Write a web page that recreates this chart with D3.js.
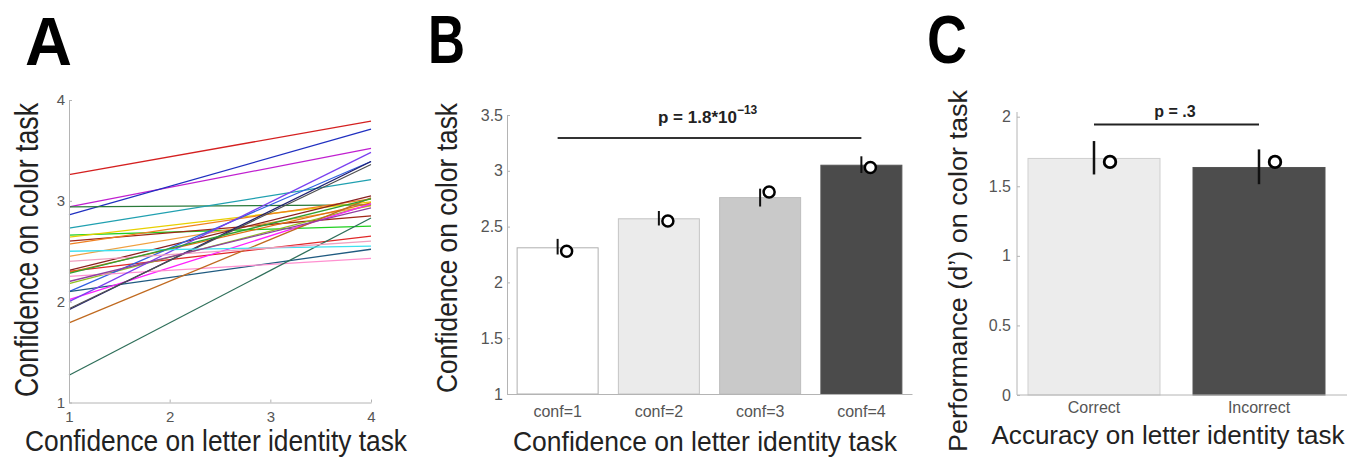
<!DOCTYPE html>
<html>
<head>
<meta charset="utf-8">
<script src="https://cdn.jsdelivr.net/npm/d3@7/dist/d3.min.js"></script>
<style>
  body { margin: 0; background: #fff; }
  svg text { font-family: 'Liberation Sans', Arial, sans-serif; }
  .axis path, .axis line { stroke: #b4b4b4; }
  .axis text { fill: #555; }
</style>
</head>
<body>
<script>
/* global d3 */
// Panel A: per-subject confidence on color task at letter confidence 1 and 4
const lineStart = [3.26, 2.94, 2.86, 2.94, 2.73, 2.66, 2.64, 2.60, 2.57, 2.45, 2.30, 2.31, 2.29, 2.18,
  2.10, 2.10, 2.02, 2.25, 2.00, 1.92, 1.93, 1.79, 1.27, 2.50, 2.40, 2.20, 2.28];
const lineEnd = [3.79, 3.52, 3.71, 2.96, 3.21, 2.75, 2.99, 2.85, 3.02, 2.95, 2.65, 3.05, 2.98, 2.96,
  3.39, 2.52, 2.97, 2.43, 3.48, 3.39, 3.36, 3.03, 2.83, 2.55, 2.60, 2.93, 3.02];
const lineColors = ['#d42020', '#c020d0', '#2030c0', '#2a7a3a', '#20a0b0', '#20d020', '#e8d000',
  '#a02818', '#f08020', '#f0a040', '#e02828', '#8c2020', '#e07010', '#90c020', '#3060e0', '#1f5a80',
  '#ff20ff', '#ff90d0', '#7a40f0', '#202070', '#505050', '#c06a20', '#2f6f5a', '#40e0f0', '#f0a0c0',
  '#9040a0', '#30a030'];
const aTicks = [1, 2, 3, 4];

// Panel B
const bCats = ['conf=1', 'conf=2', 'conf=3', 'conf=4'];
const bMeans = [2.31, 2.57, 2.76, 3.05];
const bErrLo = [2.25, 2.51, 2.68, 2.98];
const bErrHi = [2.39, 2.64, 2.84, 3.13];
const bDots = [2.28, 2.55, 2.81, 3.03];
const bTicks = [1, 1.5, 2, 2.5, 3, 3.5];

// Panel C
const cCats = ['Correct', 'Incorrect'];
const cMeans = [1.70, 1.635];
const cErrLo = [1.585, 1.515];
const cErrHi = [1.825, 1.765];
const cDots = [1.675, 1.675];
const cTicks = [0, 0.5, 1, 1.5, 2];

const svg = d3.select('body').append('svg')
  .attr('width', 1366)
  .attr('height', 459);

function bigLetter(txt, x, y, len) {
  svg.append('text')
    .attr('x', x).attr('y', y)
    .attr('textLength', len).attr('lengthAdjust', 'spacingAndGlyphs')
    .style('font-weight', 'bold')
    .style('font-size', '68px')
    .text(txt);
}

function label(txt, x, y, size, len, rotate) {
  svg.append('text')
    .attr('transform', 'translate(' + x + ',' + y + ')' + (rotate ? ' rotate(-90)' : ''))
    .attr('text-anchor', 'middle')
    .attr('textLength', len).attr('lengthAdjust', 'spacingAndGlyphs')
    .style('font-size', size + 'px')
    .style('fill', '#222')
    .text(txt);
}

bigLetter('A', 25, 65, 47);
bigLetter('B', 428, 63, 37);
bigLetter('C', 927, 63, 40);

// ---- Panel A ----
const ax = d3.scaleLinear().domain([1, 4]).range([69, 371]);
const ay = d3.scaleLinear().domain([1, 4]).range([402.5, 100]);

svg.append('g')
  .selectAll('line')
  .data(lineStart)
  .enter()
  .append('line')
  .attr('x1', ax(1))
  .attr('x2', ax(4))
  .attr('y1', (d) => ay(d))
  .attr('y2', (d, i) => ay(lineEnd[i]))
  .attr('stroke', (d, i) => lineColors[i])
  .attr('stroke-width', 1.3);

svg.append('g')
  .attr('class', 'axis')
  .attr('transform', 'translate(0,' + ay(1) + ')')
  .call(d3.axisBottom(ax).tickValues(aTicks).tickFormat(d3.format('d'))
    .tickSizeInner(-3).tickSizeOuter(0).tickPadding(9))
  .selectAll('text').style('font-size', '15px');

svg.append('g')
  .attr('class', 'axis')
  .attr('transform', 'translate(' + ax(1) + ',0)')
  .call(d3.axisLeft(ay).tickValues(aTicks).tickFormat(d3.format('d'))
    .tickSizeInner(-3).tickSizeOuter(0).tickPadding(4))
  .selectAll('text').style('font-size', '15px');

label('Confidence on color task', 38, 250, 34, 294, true);
label('Confidence on letter identity task', 216, 451, 30, 382, false);

// ---- Panel B ----
const bx = d3.scaleBand().domain(bCats).range([507, 912]).paddingInner(0.2).paddingOuter(0.1);
const by = d3.scaleLinear().domain([1, 3.5]).range([394, 115]);
const bFill = ['#ffffff', '#ebebeb', '#c9c9c9', '#4b4b4b'];
const bStroke = ['#b0b0b0', '#c4c4c4', '#bdbdbd', '#555555'];

svg.append('g')
  .selectAll('rect')
  .data(bMeans)
  .enter()
  .append('rect')
  .attr('x', (d, i) => bx(bCats[i]))
  .attr('y', (d) => by(d))
  .attr('width', bx.bandwidth())
  .attr('height', (d) => by(1) - by(d))
  .attr('fill', (d, i) => bFill[i])
  .attr('stroke', (d, i) => bStroke[i]);

svg.append('g')
  .attr('class', 'axis')
  .attr('transform', 'translate(0,' + by(1) + ')')
  .call(d3.axisBottom(bx).tickSize(0).tickPadding(12))
  .selectAll('text').style('font-size', '16px');

svg.append('g')
  .attr('class', 'axis')
  .attr('transform', 'translate(507,0)')
  .call(d3.axisLeft(by).tickValues(bTicks).tickFormat((d) => String(d))
    .tickSizeInner(-3).tickSizeOuter(0).tickPadding(4))
  .selectAll('text').style('font-size', '16px');

svg.append('g')
  .selectAll('line')
  .data(bCats)
  .enter()
  .append('line')
  .attr('x1', (d) => bx(d) + bx.bandwidth() / 2)
  .attr('x2', (d) => bx(d) + bx.bandwidth() / 2)
  .attr('y1', (d, i) => by(bErrLo[i]))
  .attr('y2', (d, i) => by(bErrHi[i]))
  .attr('stroke', '#111')
  .attr('stroke-width', 2);

svg.append('g')
  .selectAll('circle')
  .data(bDots)
  .enter()
  .append('circle')
  .attr('cx', (d, i) => bx(bCats[i]) + bx.bandwidth() / 2 + 9)
  .attr('cy', (d) => by(d))
  .attr('r', 5.5)
  .attr('fill', '#fff')
  .attr('stroke', '#000')
  .attr('stroke-width', 2.5);

svg.append('line')
  .attr('x1', bx('conf=1') + bx.bandwidth() / 2)
  .attr('x2', bx('conf=4') + bx.bandwidth() / 2)
  .attr('y1', 138).attr('y2', 138)
  .attr('stroke', '#333').attr('stroke-width', 2);

const pB = svg.append('text')
  .attr('x', 658).attr('y', 123)
  .style('font-size', '17px')
  .style('font-weight', 'bold')
  .style('fill', '#222');
pB.append('tspan').text('p = 1.8*10');
pB.append('tspan').attr('dy', -9).style('font-size', '12px').text('\u221213');

label('Confidence on color task', 457, 248, 30, 290, true);
label('Confidence on letter identity task', 705, 451, 28, 384, false);

// ---- Panel C ----
const cx = d3.scaleBand().domain(cCats).range([1011.5, 1341.5]).paddingInner(0.2).paddingOuter(0.1);
const cy = d3.scaleLinear().domain([0, 2]).range([395, 116.7]);
const cFill = ['#ececec', '#4d4d4d'];
const cStroke = ['#cfcfcf', '#555555'];

svg.append('g')
  .selectAll('rect')
  .data(cMeans)
  .enter()
  .append('rect')
  .attr('x', (d, i) => cx(cCats[i]))
  .attr('y', (d) => cy(d))
  .attr('width', cx.bandwidth())
  .attr('height', (d) => cy(0) - cy(d))
  .attr('fill', (d, i) => cFill[i])
  .attr('stroke', (d, i) => cStroke[i]);

const cAxisX = svg.append('g')
  .attr('class', 'axis')
  .attr('transform', 'translate(0,' + cy(0) + ')')
  .call(d3.axisBottom(cx).tickSize(0).tickPadding(7));
cAxisX.select('.domain').remove();
cAxisX.selectAll('text').style('font-size', '16px');
svg.append('line')
  .attr('x1', 1017).attr('x2', 1347)
  .attr('y1', cy(0)).attr('y2', cy(0))
  .attr('stroke', '#b4b4b4');

svg.append('g')
  .attr('class', 'axis')
  .attr('transform', 'translate(1017,0)')
  .call(d3.axisLeft(cy).tickValues(cTicks).tickFormat((d) => String(d))
    .tickSizeInner(-3).tickSizeOuter(0).tickPadding(6))
  .call((g) => g.select('.domain').attr('d', 'M0,' + cy(0) + 'V112'))
  .selectAll('text').style('font-size', '16px');

svg.append('g')
  .selectAll('line')
  .data(cCats)
  .enter()
  .append('line')
  .attr('x1', (d) => cx(d) + cx.bandwidth() / 2)
  .attr('x2', (d) => cx(d) + cx.bandwidth() / 2)
  .attr('y1', (d, i) => cy(cErrLo[i]))
  .attr('y2', (d, i) => cy(cErrHi[i]))
  .attr('stroke', '#111')
  .attr('stroke-width', 2.5);

svg.append('g')
  .selectAll('circle')
  .data(cDots)
  .enter()
  .append('circle')
  .attr('cx', (d, i) => cx(cCats[i]) + cx.bandwidth() / 2 + 16)
  .attr('cy', (d) => cy(d))
  .attr('r', 5.8)
  .attr('fill', '#fff')
  .attr('stroke', '#000')
  .attr('stroke-width', 2.8);

svg.append('line')
  .attr('x1', cx('Correct') + cx.bandwidth() / 2)
  .attr('x2', cx('Incorrect') + cx.bandwidth() / 2)
  .attr('y1', 124.5).attr('y2', 124.5)
  .attr('stroke', '#222').attr('stroke-width', 2);

svg.append('text')
  .attr('x', 1175).attr('y', 117)
  .attr('text-anchor', 'middle')
  .style('font-size', '16px')
  .style('font-weight', 'bold')
  .style('fill', '#222')
  .text('p = .3');

label('Performance (d\u2019) on color task', 967, 271, 26, 362, true);
label('Accuracy on letter identity task', 1168, 444, 26, 353, false);
</script>
</body>
</html>
